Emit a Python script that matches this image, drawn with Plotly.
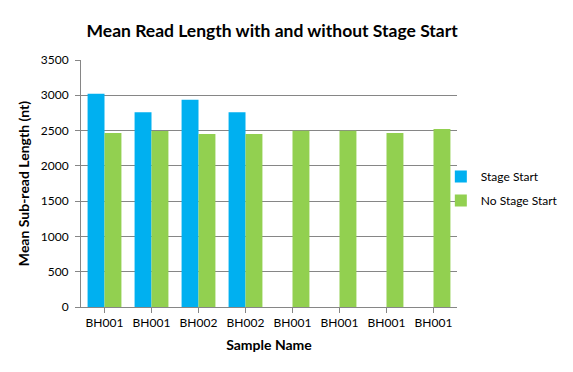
import plotly.graph_objects as go

categories = ["BH001", "BH001", "BH002", "BH002", "BH001", "BH001", "BH001", "BH001"]
stage_start = [3020, 2760, 2935, 2760, None, None, None, None]
no_stage_start = [2465, 2495, 2452, 2452, 2498, 2498, 2465, 2522]
y_ticks = [0, 500, 1000, 1500, 2000, 2500, 3000, 3500]

x_idx = list(range(len(categories)))
font_family = "Lato, 'Open Sans', sans-serif"

fig = go.Figure()
fig.add_trace(go.Bar(x=x_idx, y=stage_start, name="Stage Start", marker_color="#00B0F0",
                     marker_line_width=0, legendgroup="a"))
fig.add_trace(go.Bar(x=x_idx, y=no_stage_start, name="No Stage Start", marker_color="#92D050",
                     marker_line_width=0, legendgroup="b"))

fig.update_layout(
    width=573, height=372,
    margin=dict(l=81, r=116, t=60, b=65, autoexpand=False),
    paper_bgcolor="white", plot_bgcolor="white",
    barmode="group", bargap=0.28, bargroupgap=0,
    font=dict(family=font_family, color="#000000", size=12),
    title=dict(text="<b>Mean Read Length with and without Stage Start</b>", x=0.475, xanchor="center",
               y=0.918, yanchor="middle", automargin=False, font=dict(size=17.5, family=font_family)),
    legend=dict(x=0.957, y=0.48, xanchor="left", yanchor="middle", font=dict(size=12),
                bgcolor="rgba(0,0,0,0)", itemwidth=30, traceorder="grouped", tracegroupgap=5),
    xaxis=dict(tickmode="array", tickvals=x_idx, ticktext=categories, range=[-0.5, 7.5],
               showline=True, linecolor="#868686", linewidth=1, ticks="outside", tickson="boundaries",
               ticklen=5, tickcolor="#868686", showgrid=False, automargin=False,
               title=dict(text="<b>Sample Name</b>", font=dict(size=14), standoff=10)),
    yaxis=dict(range=[0, 3500], tickvals=y_ticks, showgrid=True, gridcolor="#868686", gridwidth=1,
               showline=True, linecolor="#868686", linewidth=1, ticks="outside", ticklen=5,
               tickcolor="#868686", zeroline=False, automargin=False, ticklabelstandoff=4,
               title=dict(text="<b>Mean Sub-read Length (nt)</b>", font=dict(size=14), standoff=7)),
)

fig.write_html("out.html", post_script="document.body.style.margin='0';",
               config={"displayModeBar": False})
